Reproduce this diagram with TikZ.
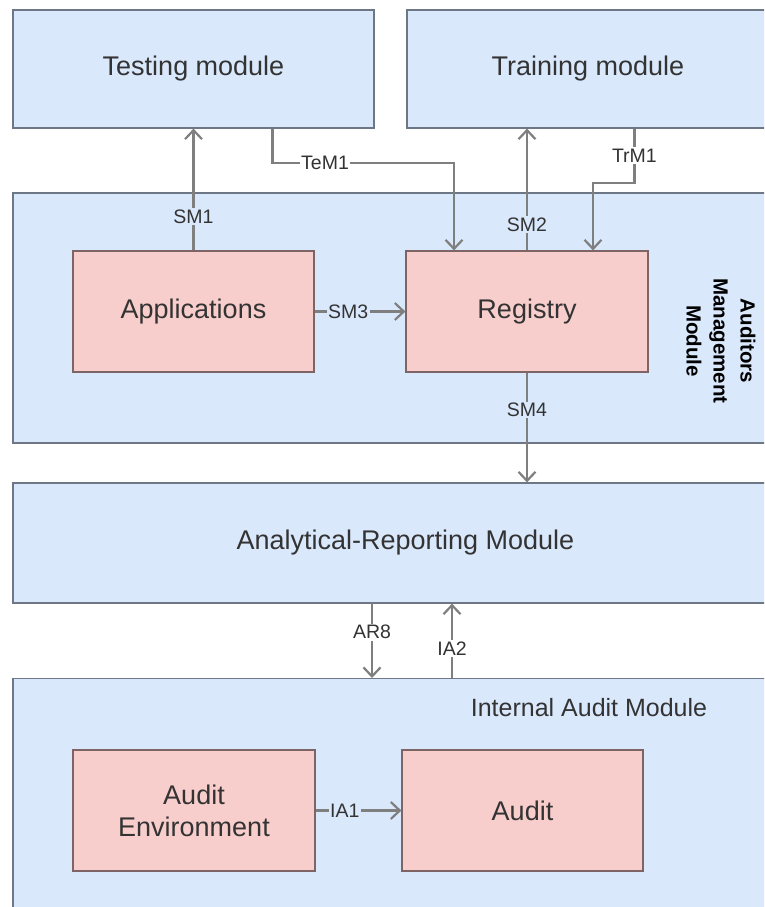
\documentclass[tikz,border=0pt]{standalone}
\usepackage{fontspec}
\setmainfont{Liberation Sans}
\usetikzlibrary{arrows.meta,calc}

\definecolor{modfill}{HTML}{DAE8FC}
\definecolor{modline}{HTML}{6E7785}
\definecolor{subfill}{HTML}{F8CECC}
\definecolor{subline}{HTML}{7E6464}
\definecolor{linkcol}{HTML}{7F7F7F}
\definecolor{txt}{HTML}{333333}

\tikzset{
  modbox/.style={draw=modline, fill=modfill, line width=1.2pt, text=txt,
    font=\fontsize{27}{32}\selectfont, inner sep=0pt},
  subbox/.style={draw=subline, fill=subfill, line width=1.2pt, text=txt,
    font=\fontsize{27}{32}\selectfont, inner sep=0pt, align=center},
  link/.style={draw=linkcol, line width=2.2pt,
    -{Straight Barb[length=9pt,width=17pt,line width=2.2pt]}},
  lbl/.style={font=\fontsize{19.5}{22}\selectfont, text=txt, inner sep=1.5pt},
  lblw/.style={lbl, fill=white},
  lblb/.style={lbl, fill=modfill},
}

\begin{document}
\begin{tikzpicture}[x=1pt, y=-1pt]
\useasboundingbox (0,0) rectangle (764,907);
\fill[white] (0,0) rectangle (764,907);
\clip (0,0) rectangle (764,907);

% top modules
\node[modbox, minimum width=361pt, minimum height=118pt] (test) at (193.5,69) {Testing module};
\node[modbox, minimum width=362pt, minimum height=118pt] (train) at (588,69) {Training module};

% auditors management module
\node[modbox, minimum width=785pt, minimum height=250pt] (amm) at (405.5,318) {};
\node[font=\fontsize{20.5}{27}\selectfont\bfseries, text=black, rotate=-90, align=center]
  (ammlbl) at (721,341) {Auditors\\Management\\Module};
\node[subbox, minimum width=241pt, minimum height=121pt] (app) at (193.5,311.5) {Applications};
\node[subbox, minimum width=242pt, minimum height=121pt] (reg) at (527,311.5) {Registry};

% analytical-reporting module
\node[modbox, minimum width=785pt, minimum height=120pt] (arm) at (405.5,543) {Analytical-Reporting Module};

% internal audit module
\node[modbox, minimum width=785pt, minimum height=262pt, anchor=north] (iam) at (405.5,678) {};
\node[text=txt, font=\fontsize{25}{30}\selectfont] (iamlbl) at (589,708) {Internal Audit Module};
\node[subbox, minimum width=242pt, minimum height=121pt] (aenv) at (194,810.5) {Audit\\Environment};
\node[subbox, minimum width=241pt, minimum height=121pt] (aud) at (522.5,810.5) {Audit};

% connectors
\draw[link] (app.north) -- node[lblb, pos=0.28] (sm1) {SM1} (test.south -| app.north);

\coordinate (temA) at ($(test.south west)+(260,0)$);
\coordinate (temB) at ($(temA)+(0,34)$);
\coordinate (temC) at ($(reg.north)+(-73,0)$);
\draw[link] (temA) -- (temB) -- node[lblw, pos=0.29] (tem1) {TeM1} (temB -| temC) -- (temC);

\draw[link] (reg.north) -- node[lblb, pos=0.21] (sm2) {SM2} (train.south -| reg.north);

\coordinate (trmA) at ($(train.south west)+(228,0)$);
\coordinate (trmB) at ($(trmA)+(0,54)$);
\coordinate (trmC) at ($(reg.north)+(66,0)$);
\draw[link] (trmA) -- node[lblw, pos=0.5] (trm1) {TrM1} (trmB) -- (trmB -| trmC) -- (trmC);

\draw[link] (app.east) -- node[lblb, pos=0.37] (sm3) {SM3} (reg.west);

\draw[link] (reg.south) -- node[lblb, pos=0.34] (sm4) {SM4} (arm.north -| reg.south);

\coordinate (arA) at (372,603);
\draw[link] (arA) -- node[lblw, pos=0.39] (ar8) {AR8} (iam.north -| arA);
\coordinate (iaA) at (452,678);
\draw[link] (iaA) -- node[lblw, pos=0.4] (ia2) {IA2} (arm.south -| iaA);

\draw[link] (aenv.east) -- node[lblb, pos=0.34] (ia1) {IA1} (aud.west);
\end{tikzpicture}
\end{document}
